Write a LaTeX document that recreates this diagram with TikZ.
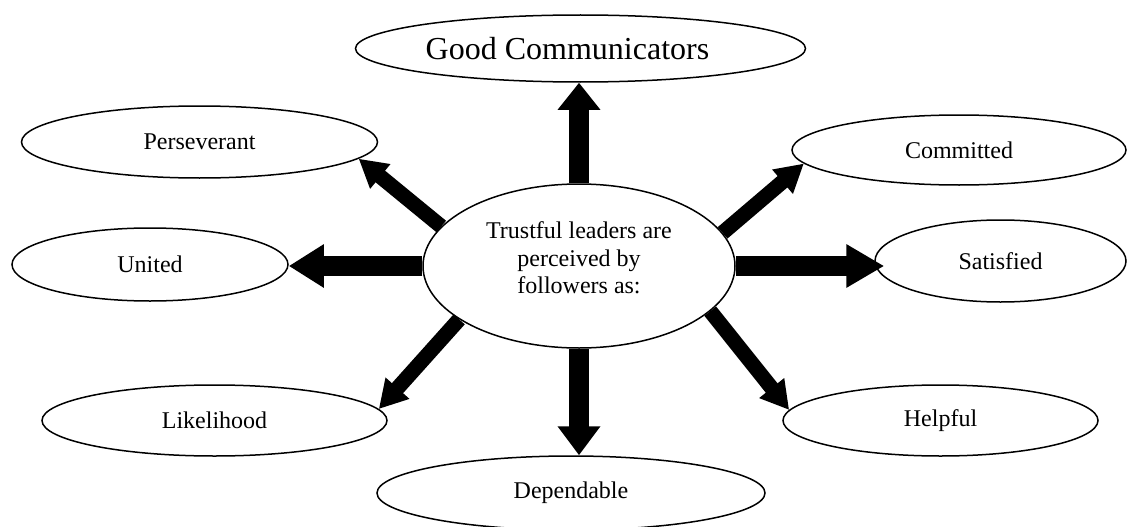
\documentclass[tikz,border=0pt]{standalone}
\usepackage{fontspec}
\setmainfont{Liberation Serif}
\usetikzlibrary{arrows.meta,shapes.geometric}

\tikzset{every picture/.style={line width=1.5pt}}
\tikzset{
	trait/.style={ellipse, draw, fill=white, inner sep=0pt, font=\fontsize{24}{27.5}\selectfont},
	fatarrow/.style={line width=20pt, -{Triangle[width=41pt,length=#1]}},
	fatarrow/.default=30pt,
	slimarrow/.style={line width=15pt, -{Triangle[width=30pt,length=28pt]}}}

\begin{document}
\begin{tikzpicture}[x=1pt,y=1pt,yscale=-1,xscale=1]
	\useasboundingbox (0,0) rectangle (1127,527);

	%Shape: Ellipse [centre]
	\node [trait, align=center, text depth=16pt, minimum width=312pt, minimum height=164pt] (ctr) at (579,266) {Trustful leaders are\\perceived by\\followers as:};
	%Shape: Ellipse [top]
	\node [trait, font=\fontsize{32}{36}\selectfont, minimum width=450pt, minimum height=67pt] (good) at (580.5,48.5) {Good Communicators\hspace*{26pt}};
	%Shape: Ellipse [left]
	\node [trait, minimum width=356pt, minimum height=72pt] (pers) at (199.5,142) {Perseverant};
	\node [trait, minimum width=276pt, minimum height=73pt] (unit) at (150,264.5) {United};
	\node [trait, minimum width=345pt, minimum height=71pt] (like) at (214.5,420.5) {Likelihood};
	%Shape: Ellipse [bottom]
	\node [trait, minimum width=388pt, minimum height=74pt] (dep) at (571,493) {Dependable};
	%Shape: Ellipse [right]
	\node [trait, minimum width=334pt, minimum height=70pt] (comm) at (959,150) {Committed};
	\node [trait, minimum width=251pt, minimum height=82pt] (sat) at (1000.5,261) {Satisfied};
	\node [trait, minimum width=315pt, minimum height=71pt] (help) at (940.5,420.5) {Helpful};

	%Arrows
	\draw [fatarrow=27pt] (ctr.north) -- (ctr.north |- good.south);
	\draw [fatarrow=29pt] (ctr.south) -- (ctr.south |- dep.north);
	\draw [fatarrow=35pt] (ctr.west) -- (ctr.west -| unit.east);
	\draw [fatarrow=38pt, shorten >=-10pt] (ctr.east) -- (ctr.east -| sat.west);
	\draw [slimarrow] (ctr.164) -- (pers.-6);
	\draw [slimarrow] (ctr.13) -- (comm.185);
	\draw [slimarrow] (ctr.204) -- (like.4);
	\draw [slimarrow] (ctr.-19) -- (help.176);

\end{tikzpicture}
\end{document}
